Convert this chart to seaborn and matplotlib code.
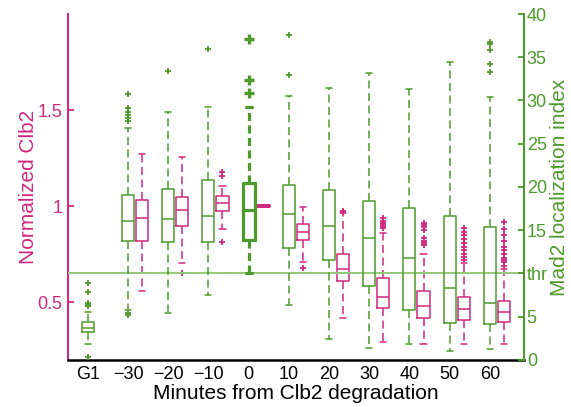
import matplotlib
matplotlib.use("Agg")
import matplotlib.pyplot as plt
import seaborn as sns

# ---------------- data ----------------
categories = ["G1", "\u221230", "\u221220", "\u221210", "0", "10", "20", "30", "40", "50", "60"]

# Mad2 localization index (right axis, green) – one box per category
mad2_whislo = [1.85, 5.8, 5.47, 7.5, 10.1, 6.4, 2.39, 1.35, 1.85, 1.08, 1.24]
mad2_q1     = [3.2, 13.76, 13.6, 13.6, 13.9, 12.9, 11.6, 8.5, 5.78, 4.32, 4.16]
mad2_med    = [3.74, 16.1, 16.3, 16.7, 17.3, 16.9, 15.5, 14.1, 11.75, 8.36, 6.55]
mad2_q3     = [4.35, 19.1, 19.8, 20.8, 20.5, 20.2, 19.7, 18.4, 17.6, 16.7, 15.4]
mad2_whishi = [5.58, 26.8, 28.7, 29.2, 29.3, 30.5, 31.4, 33.2, 31.3, 34.4, 30.4]
mad2_fliers = [
    [0.38, 6.2, 6.4, 6.55, 7.9, 8.94],
    [5.4, 5.2, 27.6, 28.0, 28.3, 28.7, 29.1, 30.7],
    [33.4],
    [36.0],
    [30.9, 32.4, 37.1],
    [32.9, 37.6],
    [], [], [], [],
    [33.3, 34.2, 35.8, 36.5, 36.8],
]

# Normalized Clb2 (left axis, magenta) – categories -30 ... 60
clb2_whislo = [0.561, 0.703, 0.883, 1.0, 0.710, 0.417, 0.292, 0.282, 0.282, 0.282]
clb2_q1     = [0.821, 0.899, 0.974, 1.0, 0.826, 0.611, 0.469, 0.417, 0.408, 0.399]
clb2_med    = [0.939, 0.980, 1.015, 1.0, 0.866, 0.672, 0.528, 0.483, 0.465, 0.451]
clb2_q3     = [1.034, 1.046, 1.052, 1.0, 0.906, 0.752, 0.627, 0.561, 0.529, 0.509]
clb2_whishi = [1.272, 1.258, 1.107, 1.0, 0.998, 0.963, 0.862, 0.752, 0.705, 0.673]
clb2_fliers = [
    [],
    [0.654],
    [0.812, 1.159, 1.180],
    [],
    [0.677],
    [0.970, 0.975],
    [0.885, 0.895, 0.905, 0.915, 0.925, 0.94],
    [0.80, 0.81, 0.82, 0.835, 0.875, 0.89, 0.90, 0.911],
    [0.72, 0.735, 0.75, 0.77, 0.79, 0.81, 0.83, 0.85, 0.865, 0.885],
    [0.69, 0.71, 0.72, 0.73, 0.75, 0.77, 0.79, 0.82, 0.85, 0.88, 0.916],
]

thr_value = 10
right_ticks = [0, 5, 10, 15, 20, 25, 30, 35, 40]
right_ticklabels = ["0", "5", "thr", "15", "20", "25", "30", "35", "40"]
left_ticks = [0.5, 1.0, 1.5]
left_ticklabels = ["0.5", "1", "1.5"]

# ---------------- style ----------------
sns.set_theme(style="ticks")
plt.rcParams["font.family"] = ["Liberation Sans", "DejaVu Sans"]
plt.rcParams["lines.scale_dashes"] = False

GREEN = "#4f9a2c"
MAGENTA = "#d0287f"
THR = "#93c878"
DASH = (0, (5.8, 3.2))


def make_stats(lo, q1, med, q3, hi, fl):
    return [dict(whislo=a, q1=b, med=c, q3=d, whishi=e, fliers=f)
            for a, b, c, d, e, f in zip(lo, q1, med, q3, hi, fl)]


def draw(ax, stats, positions, color, lw, ms, mew):
    ax.bxp(stats, positions=positions, widths=0.3, capwidths=0.15,
           showfliers=True, manage_ticks=False,
           boxprops=dict(color=color, linewidth=lw),
           medianprops=dict(color=color, linewidth=lw),
           whiskerprops=dict(color=color, linewidth=lw, linestyle=DASH),
           capprops=dict(color=color, linewidth=lw),
           flierprops=dict(marker="+", markeredgecolor=color, markersize=ms,
                           markeredgewidth=mew, linestyle="none"))


fig = plt.figure(figsize=(5.71, 4.07), dpi=100)
ax = fig.add_axes([0.1186, 0.1155, 0.7991, 0.8501])
ax2 = ax.twinx()

# thr line
ax2.axhline(thr_value, color=THR, linewidth=1.4, zorder=0.5)

# Mad2 (green) boxes
mad2_stats = make_stats(mad2_whislo, mad2_q1, mad2_med, mad2_q3, mad2_whishi, mad2_fliers)
pos_all = list(range(len(categories)))
normal_idx = [i for i in pos_all if i != 4]
draw(ax2, [mad2_stats[i] for i in normal_idx], normal_idx, GREEN, 1.1, 4, 1.3)
draw(ax2, [mad2_stats[4]], [4], GREEN, 2.3, 6.5, 2.4)

# Clb2 (magenta) boxes
clb2_stats = make_stats(clb2_whislo, clb2_q1, clb2_med, clb2_q3, clb2_whishi, clb2_fliers)
clb2_pos = [i + 0.35 for i in range(1, len(categories))]
idx = [j for j in range(len(clb2_stats)) if j != 3]
draw(ax, [clb2_stats[j] for j in idx], [clb2_pos[j] for j in idx], MAGENTA, 1.1, 4, 1.3)
draw(ax, [clb2_stats[3]], [clb2_pos[3]], MAGENTA, 2.6, 4, 1.3)

# axes limits
ax.set_xlim(-0.5, 10.85)
ax.set_ylim(0.2, 2.0)
ax2.set_ylim(0, 40)

# ticks
ax.set_xticks(pos_all)
ax.set_xticklabels(categories)
ax.set_yticks(left_ticks)
ax.set_yticklabels(left_ticklabels)
ax2.set_yticks(right_ticks)
ax2.set_yticklabels(right_ticklabels)

ax.tick_params(axis="x", length=0, pad=4, labelsize=13, labelcolor="black")
ax.tick_params(axis="y", direction="in", length=4, width=1.3, color=MAGENTA,
               labelcolor=MAGENTA, labelsize=13, pad=4)
ax2.tick_params(axis="y", direction="in", length=4.5, width=1.3, color=GREEN,
                labelcolor=GREEN, labelsize=13, pad=2)

# spines
sns.despine(ax=ax, top=True, right=True)
for s in ["top", "left", "bottom"]:
    ax2.spines[s].set_visible(False)
ax.spines["left"].set_color(MAGENTA)
ax.spines["left"].set_linewidth(1.5)
ax.spines["bottom"].set_color("black")
ax.spines["bottom"].set_linewidth(1.8)
ax2.spines["right"].set_color(GREEN)
ax2.spines["right"].set_linewidth(1.5)
ax.set_facecolor("none")
ax2.set_facecolor("none")

# labels
ax.set_xlabel("Minutes from Clb2 degradation", fontsize=15, color="black")
ax.xaxis.set_label_coords(0.50, -0.068)
ax.set_ylabel("Normalized Clb2", fontsize=15, color=MAGENTA)
ax.yaxis.set_label_coords(-0.066, 0.5)
ax2.set_ylabel("Mad2 localization index", fontsize=15, color=GREEN)
ax2.yaxis.set_label_coords(1.058, 0.5)

fig.savefig("out.png", dpi=100)
